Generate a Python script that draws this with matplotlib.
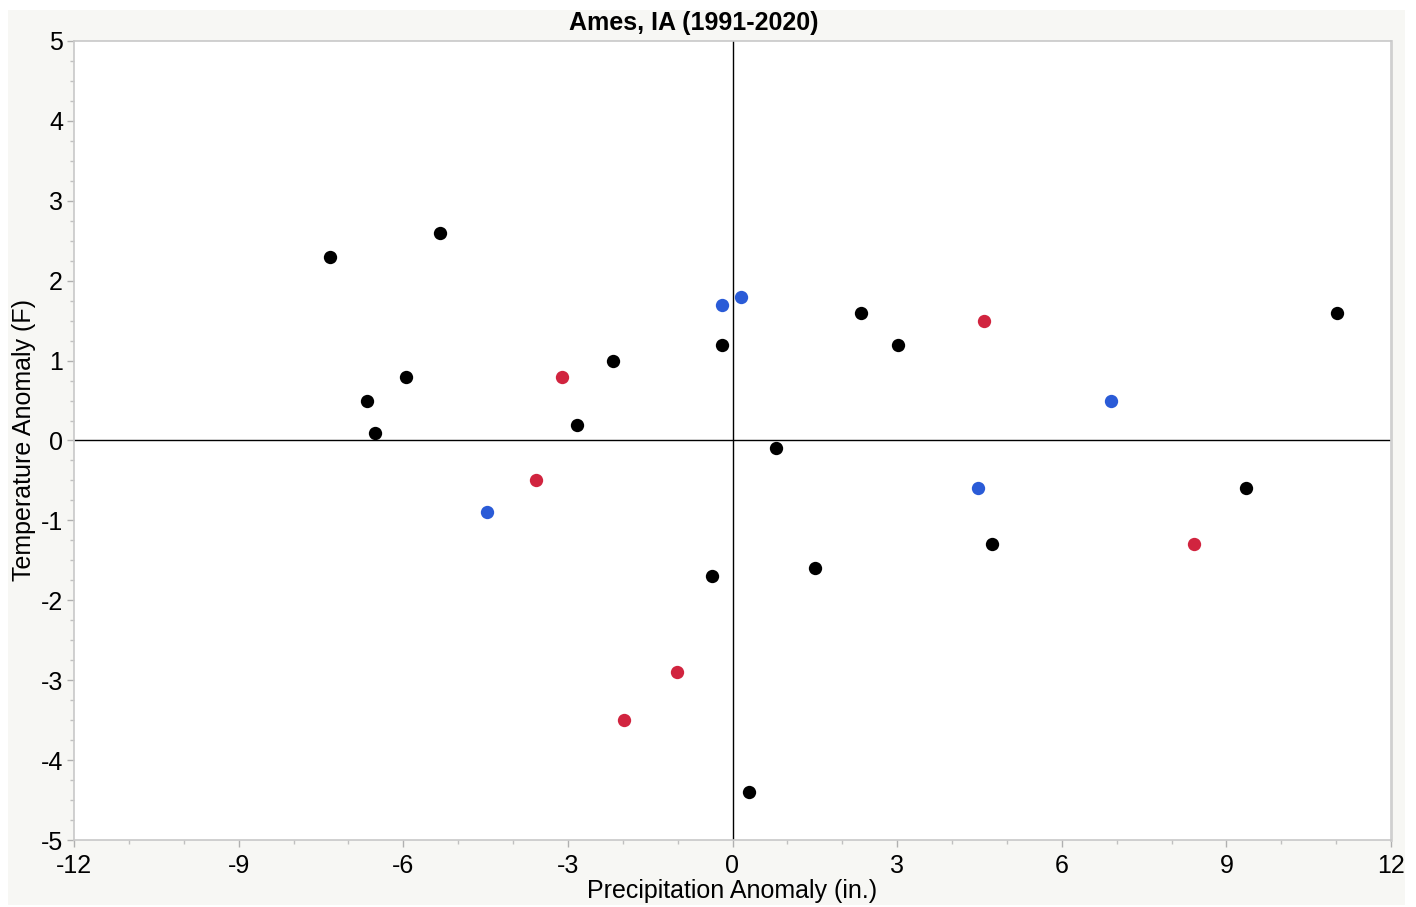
import matplotlib
matplotlib.use("Agg")
import matplotlib.pyplot as plt
from matplotlib.patches import Rectangle
from matplotlib.ticker import MultipleLocator

plt.rcParams['font.family'] = ['Liberation Sans', 'DejaVu Sans']
plt.rcParams['axes.unicode_minus'] = False

black_x = [-7.33, -5.33, -6.66, -6.52, -5.95, -2.18, -2.83, -0.19, 0.79, 2.34, 3.02, 11.02, 9.36, 4.73, 1.50, -0.37, 0.30]
black_y = [2.3, 2.6, 0.5, 0.1, 0.8, 1.0, 0.2, 1.2, -0.1, 1.6, 1.2, 1.6, -0.6, -1.3, -1.6, -1.7, -4.4]
red_x = [-3.11, -3.58, 4.58, 8.41, -1.01, -1.98]
red_y = [0.8, -0.5, 1.5, -1.3, -2.9, -3.5]
blue_x = [-0.19, 0.155, 6.90, 4.47, -4.47]
blue_y = [1.7, 1.8, 0.5, -0.6, -0.9]

xticks = [-12, -9, -6, -3, 0, 3, 6, 9, 12]
yticks = [-5, -4, -3, -2, -1, 0, 1, 2, 3, 4, 5]

W, H = 1416, 907
fig = plt.figure(figsize=(W / 100, H / 100), dpi=100)
fig.patch.set_facecolor('white')
fig.patches.append(Rectangle((8 / W, 1 - 905 / H), (1405 - 8) / W, (905 - 10) / H,
                             transform=fig.transFigure, facecolor='#f7f7f4',
                             edgecolor='none', zorder=-10))

ax = fig.add_axes([74 / W, 1 - 840 / H, (1391 - 74) / W, (840 - 41) / H])
ax.set_zorder(1)
ax.set_facecolor('white')
ax.set_xlim(-12, 12)
ax.set_ylim(-5, 5)

ax.axhline(0, color='black', lw=1.0, zorder=1)
ax.axvline(0, color='black', lw=1.0, zorder=1)

ms = 92
ax.scatter(black_x, black_y, s=ms, color='black', zorder=3, linewidths=0)
ax.scatter(red_x, red_y, s=ms, color='#d1243f', zorder=3, linewidths=0)
ax.scatter(blue_x, blue_y, s=ms, color='#2a5bd7', zorder=3, linewidths=0)

ax.set_xticks(xticks)
ax.set_yticks(yticks)
ax.xaxis.set_minor_locator(MultipleLocator(1))
ax.yaxis.set_minor_locator(MultipleLocator(0.25))
ax.tick_params(which='major', direction='out', length=5, width=1, color='#b0b0b0',
               labelsize=18, pad=3)
ax.tick_params(axis='x', which='major', pad=5)
ax.tick_params(which='minor', direction='out', length=3, width=1, color='#c0c0c0')
for s in ax.spines.values():
    s.set_color('#c8c8c8')
    s.set_linewidth(1.2)
ax.spines['right'].set_linewidth(2)
ax.spines['right'].set_color('#d0d0d0')

ax.set_xlabel('Precipitation Anomaly (in.)', fontsize=18, labelpad=1)
ax.set_ylabel('Temperature Anomaly (F)', fontsize=18, labelpad=3)
fig.text(694 / W, 1 - 23 / H, 'Ames, IA (1991-2020)', ha='center', va='center',
         fontsize=18, fontweight='bold')

fig.savefig('out.png', dpi=100, facecolor=fig.get_facecolor())
